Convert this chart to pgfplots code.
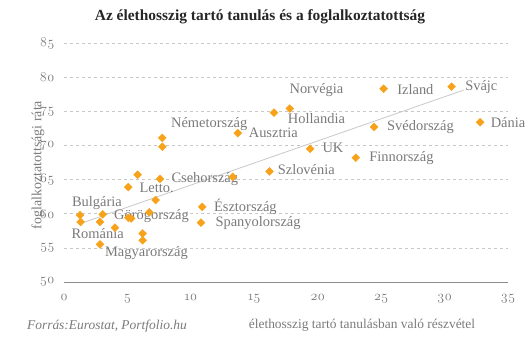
\documentclass[border=0pt]{standalone}
\usepackage{fontspec}
\setmainfont{Liberation Serif}
\newfontfamily\numfont[Numbers=OldStyle]{Latin Modern Roman}
\usepackage{pgfplots}
\pgfplotsset{compat=1.18}
\definecolor{mk}{HTML}{F7A21B}
\definecolor{lab}{HTML}{7A7A7A}
\definecolor{tk}{HTML}{8C8C8C}
\definecolor{grd}{HTML}{C8C8C8}
\begin{document}
\begin{tikzpicture}
\path[use as bounding box] (-64bp,-60bp) rectangle (467bp,282bp);
\begin{axis}[
  at={(0,0)}, anchor=south west,
  scale only axis, width=444bp, height=239bp,
  xmin=0, xmax=35, ymin=50, ymax=85,
  xtick={0,5,...,35}, ytick={50,55,...,85},
  axis x line=bottom, axis y line=left,
  x axis line style={draw=tk, line width=0.8bp, -},
  y axis line style={draw=none},
  major tick length=0pt,
  ymajorgrids, grid style={dashed, grd, line width=0.6bp},
  /pgf/number format/assume math mode=true,
  ticklabel style={font=\numfont\fontsize{13.5}{13.5}\selectfont, text=lab},
  xticklabel style={yshift=-9bp},
  yticklabel style={xshift=-6bp},
  clip=false,
]
\addplot[grd, line width=0.8bp] coordinates {(1.2,58.5) (31.5,78.1)};
\addplot[only marks, mark=square*, mark size=2.8bp, mark options={rotate=45, fill=mk, draw=mk}] coordinates {
(1.26,59.8) (1.31,58.8) (3.05,59.9) (2.84,58.8) (4.02,57.95) (5.07,59.4) (5.3,59.3)
(6.72,60.2) (7.22,62.0) (5.07,63.9) (6.2,57.1) (6.2,56.1) (2.84,55.5) (5.8,65.7)
(7.57,65.1) (7.75,71.1) (7.75,69.8) (10.9,61.0) (10.8,58.7) (13.7,71.8)
(16.55,74.8) (17.8,75.4) (19.4,69.5) (16.2,66.2) (13.3,65.4) (23.0,68.2)
(24.45,72.7) (25.2,78.3) (30.55,78.6) (32.8,73.4)
};
\begin{scope}[every node/.style={text=lab, font=\fontsize{14.5}{14.5}\selectfont, inner sep=0pt}]
\node at (axis cs:2.6,61.6) {Bulgária};
\node at (axis cs:2.65,57.1) {Románia};
\node at (axis cs:6.5,54.3) {Magyarország};
\node at (axis cs:6.9,59.6) {Görögország};
\node at (axis cs:7.3,63.8) {Letto.};
\node at (axis cs:11.1,65.1) {Csehország};
\node at (axis cs:11.45,73.1) {Németország};
\node at (axis cs:16.5,71.8) {Ausztria};
\node at (axis cs:14.3,61.0) {Észtország};
\node at (axis cs:15.3,58.6) {Spanyolország};
\node at (axis cs:19.9,78.1) {Norvégia};
\node at (axis cs:19.9,74.0) {Hollandia};
\node at (axis cs:21.2,69.6) {UK};
\node at (axis cs:19.1,66.4) {Szlovénia};
\node at (axis cs:27.7,78.2) {Izland};
\node at (axis cs:32.9,78.5) {Svájc};
\node at (axis cs:28.1,72.7) {Svédország};
\node at (axis cs:35.0,73.4) {Dánia};
\node at (axis cs:26.6,68.2) {Finnország};
\end{scope}
\end{axis}
\node[font=\fontsize{15.5}{15.5}\selectfont\bfseries, text=black!85] at (196bp,265bp) {Az élethosszig tartó tanulás és a foglalkoztatottság};
\node[rotate=90, text=lab, font=\fontsize{14}{14}\selectfont] at (-26bp,117bp) {foglalkoztatottsági ráta};
\node[text=lab, font=\fontsize{13.5}{13.5}\selectfont] at (298bp,-43bp) {élethosszig tartó tanulásban való részvétel};
\node[text=lab, font=\fontsize{13.5}{13.5}\selectfont\itshape] at (43bp,-44bp) {Forrás:Eurostat, Portfolio.hu};
\end{tikzpicture}
\end{document}
